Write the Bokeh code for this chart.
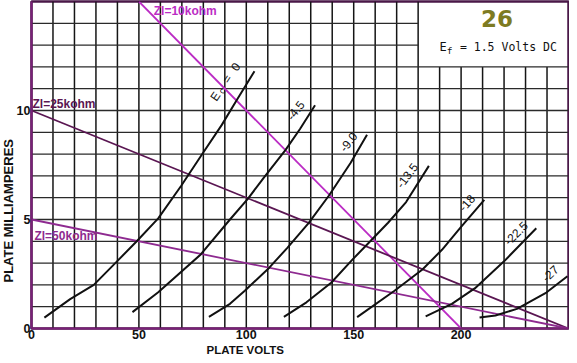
import math
from bokeh.plotting import figure
from bokeh.models import Range1d, FixedTicker, Title
from bokeh.core.properties import value
from bokeh.embed import file_html
from bokeh.resources import INLINE

# ---------------- data ----------------
x_ticks = [0, 50, 100, 150, 200]
y_ticks = [0, 5, 10]

ec_0_v = [6, 18, 29, 39, 49, 59, 69.7, 78.8, 88.6, 95.5, 103.8]
ec_0_i = [0.5, 1.35, 2.0, 3.0, 4.0, 5.05, 6.55, 7.9, 9.34, 10.47, 11.8]

ec_45_v = [47, 59, 78.8, 92.4, 100.8, 108, 118.2, 125, 132]
ec_45_i = [0.75, 1.66, 3.4, 5.0, 5.96, 6.9, 8.18, 9.15, 10.24]

ec_90_v = [82.6, 92.4, 99.3, 110.7, 119, 128.9, 138.5, 148.6, 156.2]
ec_90_i = [0.53, 1.13, 1.73, 2.79, 3.69, 4.82, 6.1, 7.6, 8.89]

ec_135_v = [117.5, 128, 139.5, 149.4, 157.7, 166, 174.4, 185]
ec_135_i = [0.53, 1.2, 2.1, 3.16, 4.0, 4.85, 5.8, 7.46]

ec_180_v = [151.6, 169, 182, 191.1, 199.5, 210.8]
ec_180_i = [0.52, 1.73, 2.71, 3.61, 4.6, 5.9]

ec_225_v = [183.5, 195.7, 206.5, 220, 235]
ec_225_i = [0.56, 1.13, 1.85, 3.08, 4.6]

ec_270_v = [208.6, 216, 226, 239.7, 249.5]
ec_270_i = [0.5, 0.6, 0.9, 1.65, 2.4]

curve_labels = ["-4.5", "-9.0", "-13.5", "-18", "-22.5", "-27"]
ec0_label_parts = ["E", "c", "=", "0"]

zl_names = ["Zl=10kohm", "Zl=25kohm", "Zl=50kohm"]
zl_v = [[50, 200], [0, 250], [0, 250]]
zl_i = [[15, 0], [10, 0], [5, 0]]

tube_type = "26"
filament_text = "= 1.5 Volts DC"
x_title = "PLATE VOLTS"
y_title = "PLATE MILLIAMPERES"

# ---------------- styles ----------------
zl_colors = ["#bb2cc4", "#5a1652", "#8e2a90"]
curve_color = "#111111"
axis_color = "#7a2078"
outline_color = "#4a1848"


def ref(px, py, ang=None, shift=0.0):
    """reference-image pixel -> data coordinates (annotation placement only);
    optional shift (px) perpendicular to a rotated baseline, towards upper left"""
    if ang is not None:
        a = math.radians(ang)
        px -= shift * math.sin(a)
        py -= shift * math.cos(a)
    return (px - 27) / 2.196, (335 - py) / 22.13


p = figure(width=569, height=355, x_range=Range1d(0, 250), y_range=Range1d(0, 15),
           output_backend="svg", toolbar_location=None,
           min_border_left=2, min_border_right=1, min_border_top=1, min_border_bottom=2)
p.background_fill_color = "white"
p.border_fill_color = "white"
p.outline_line_color = outline_color
p.outline_line_width = 2.5
p.grid.visible = False

# grid (blank box in the upper right corner)
gx0, gy0, gx1, gy1 = [], [], [], []
for xv in range(10, 250, 10):
    gx0.append(xv); gx1.append(xv); gy0.append(0)
    gy1.append(12 if xv > 180 else 15)
p.segment(gx0, gy0, gx1, gy1, line_color="#151515", line_width=1.5)
hx0, hy0, hx1, hy1 = [], [], [], []
for yv in range(1, 15):
    hy0.append(yv); hy1.append(yv); hx0.append(0)
    hx1.append(180 if yv > 12 else 250)
p.segment(hx0, hy0, hx1, hy1, line_color="#2a2a2a", line_width=1.3)

# axes
for ax in (p.xaxis, p.yaxis):
    ax.major_tick_line_color = None
    ax.minor_tick_line_color = None
    ax.major_tick_out = 0
    ax.major_tick_in = 0
    ax.axis_line_color = axis_color
    ax.axis_line_width = 2
    ax.major_label_text_font = "Liberation Sans"
    ax.major_label_text_font_style = "bold"
    ax.major_label_text_font_size = "12.5px"
    ax.major_label_text_color = "#111111"
    ax.major_label_standoff = 1
p.xaxis.ticker = FixedTicker(ticks=x_ticks)
p.yaxis.ticker = FixedTicker(ticks=y_ticks)

# axis titles (offset along the side, as in the reference)
p.add_layout(Title(text=y_title, align="left", offset=46, standoff=-4,
                   text_font="Liberation Sans", text_font_style="bold",
                   text_font_size="13px", text_color="#111111"), "left")
p.add_layout(Title(text=x_title, align="left", offset=175, standoff=0,
                   text_font="Liberation Sans", text_font_style="bold",
                   text_font_size="11.5px", text_color="#111111"), "below")

# load lines
for name, vv, ii, col in zip(zl_names, zl_v, zl_i, zl_colors):
    p.line(vv, ii, line_color=col, line_width=1.8)

# plate curves
curves = [(ec_0_v, ec_0_i), (ec_45_v, ec_45_i), (ec_90_v, ec_90_i), (ec_135_v, ec_135_i),
          (ec_180_v, ec_180_i), (ec_225_v, ec_225_i), (ec_270_v, ec_270_i)]
for vv, ii in curves:
    p.line(vv, ii, line_color=curve_color, line_width=2)

# curve labels
font = value("Liberation Sans")
lab_px = [(300, 116), (354, 148), (414, 182), (475, 210), (525, 241), (560, 282)]
lab_ang = [52, 52, 53, 48, 45, 43]
for txt, pos, ang in zip(curve_labels, lab_px, lab_ang):
    x, y = ref(pos[0], pos[1], ang, 4)
    p.text([x], [y], text=[txt], angle=math.radians(ang), text_font=font,
           text_font_size="12px", text_align="center", text_baseline="middle",
           text_color=curve_color)

# "E c = 0" with subscript c, pieces placed along the rotated baseline
a0 = 56
ua = math.radians(a0)
e_px = (218.3, 101.7)
along = [0.0, 8.5, 21.5, 36.5]
down = [0.0, 2.5, 0.0, 0.0]
sizes = ["12px", "9px", "12px", "12px"]
for txt, s, d, fs in zip(ec0_label_parts, along, down, sizes):
    px = e_px[0] + s * math.cos(ua) + d * math.sin(ua)
    py = e_px[1] - s * math.sin(ua) + d * math.cos(ua)
    x, y = ref(px, py, a0, 4)
    p.text([x], [y], text=[txt], angle=ua, text_font=font, text_font_size=fs,
           text_align="center", text_baseline="middle", text_color=curve_color)

# load line labels
zl_lab_px = [(152, 13), (28, 107.5), (30, 241)]
for name, pos, col in zip(zl_names, zl_lab_px, zl_colors):
    x, y = ref(*pos)
    p.text([x], [y], text=[name], text_font=font, text_font_style="bold",
           text_font_size="12px", text_align="left", text_baseline="middle", text_color=col)

# box text
x, y = ref(503, 20)
p.text([x], [y], text=[tube_type], text_font=value("DejaVu Sans"), text_font_style="bold",
       text_font_size="23px", text_align="center", text_baseline="middle", text_color="#7d7b22")
mono = value("DejaVu Sans Mono")
x, y = ref(444, 49)
p.text([x], [y], text=["E"], text_font=mono, text_font_size="12px", text_align="left",
       text_baseline="alphabetic", text_color="#111111")
x, y = ref(451.5, 53)
p.text([x], [y], text=["f"], text_font=mono, text_font_size="9.5px", text_align="left",
       text_baseline="alphabetic", text_color="#111111")
x, y = ref(465, 49)
p.text([x], [y], text=[filament_text], text_font=mono, text_font_size="11.5px", text_align="left",
       text_baseline="alphabetic", text_color="#111111")

open("out.html", "w").write(file_html(p, INLINE))
